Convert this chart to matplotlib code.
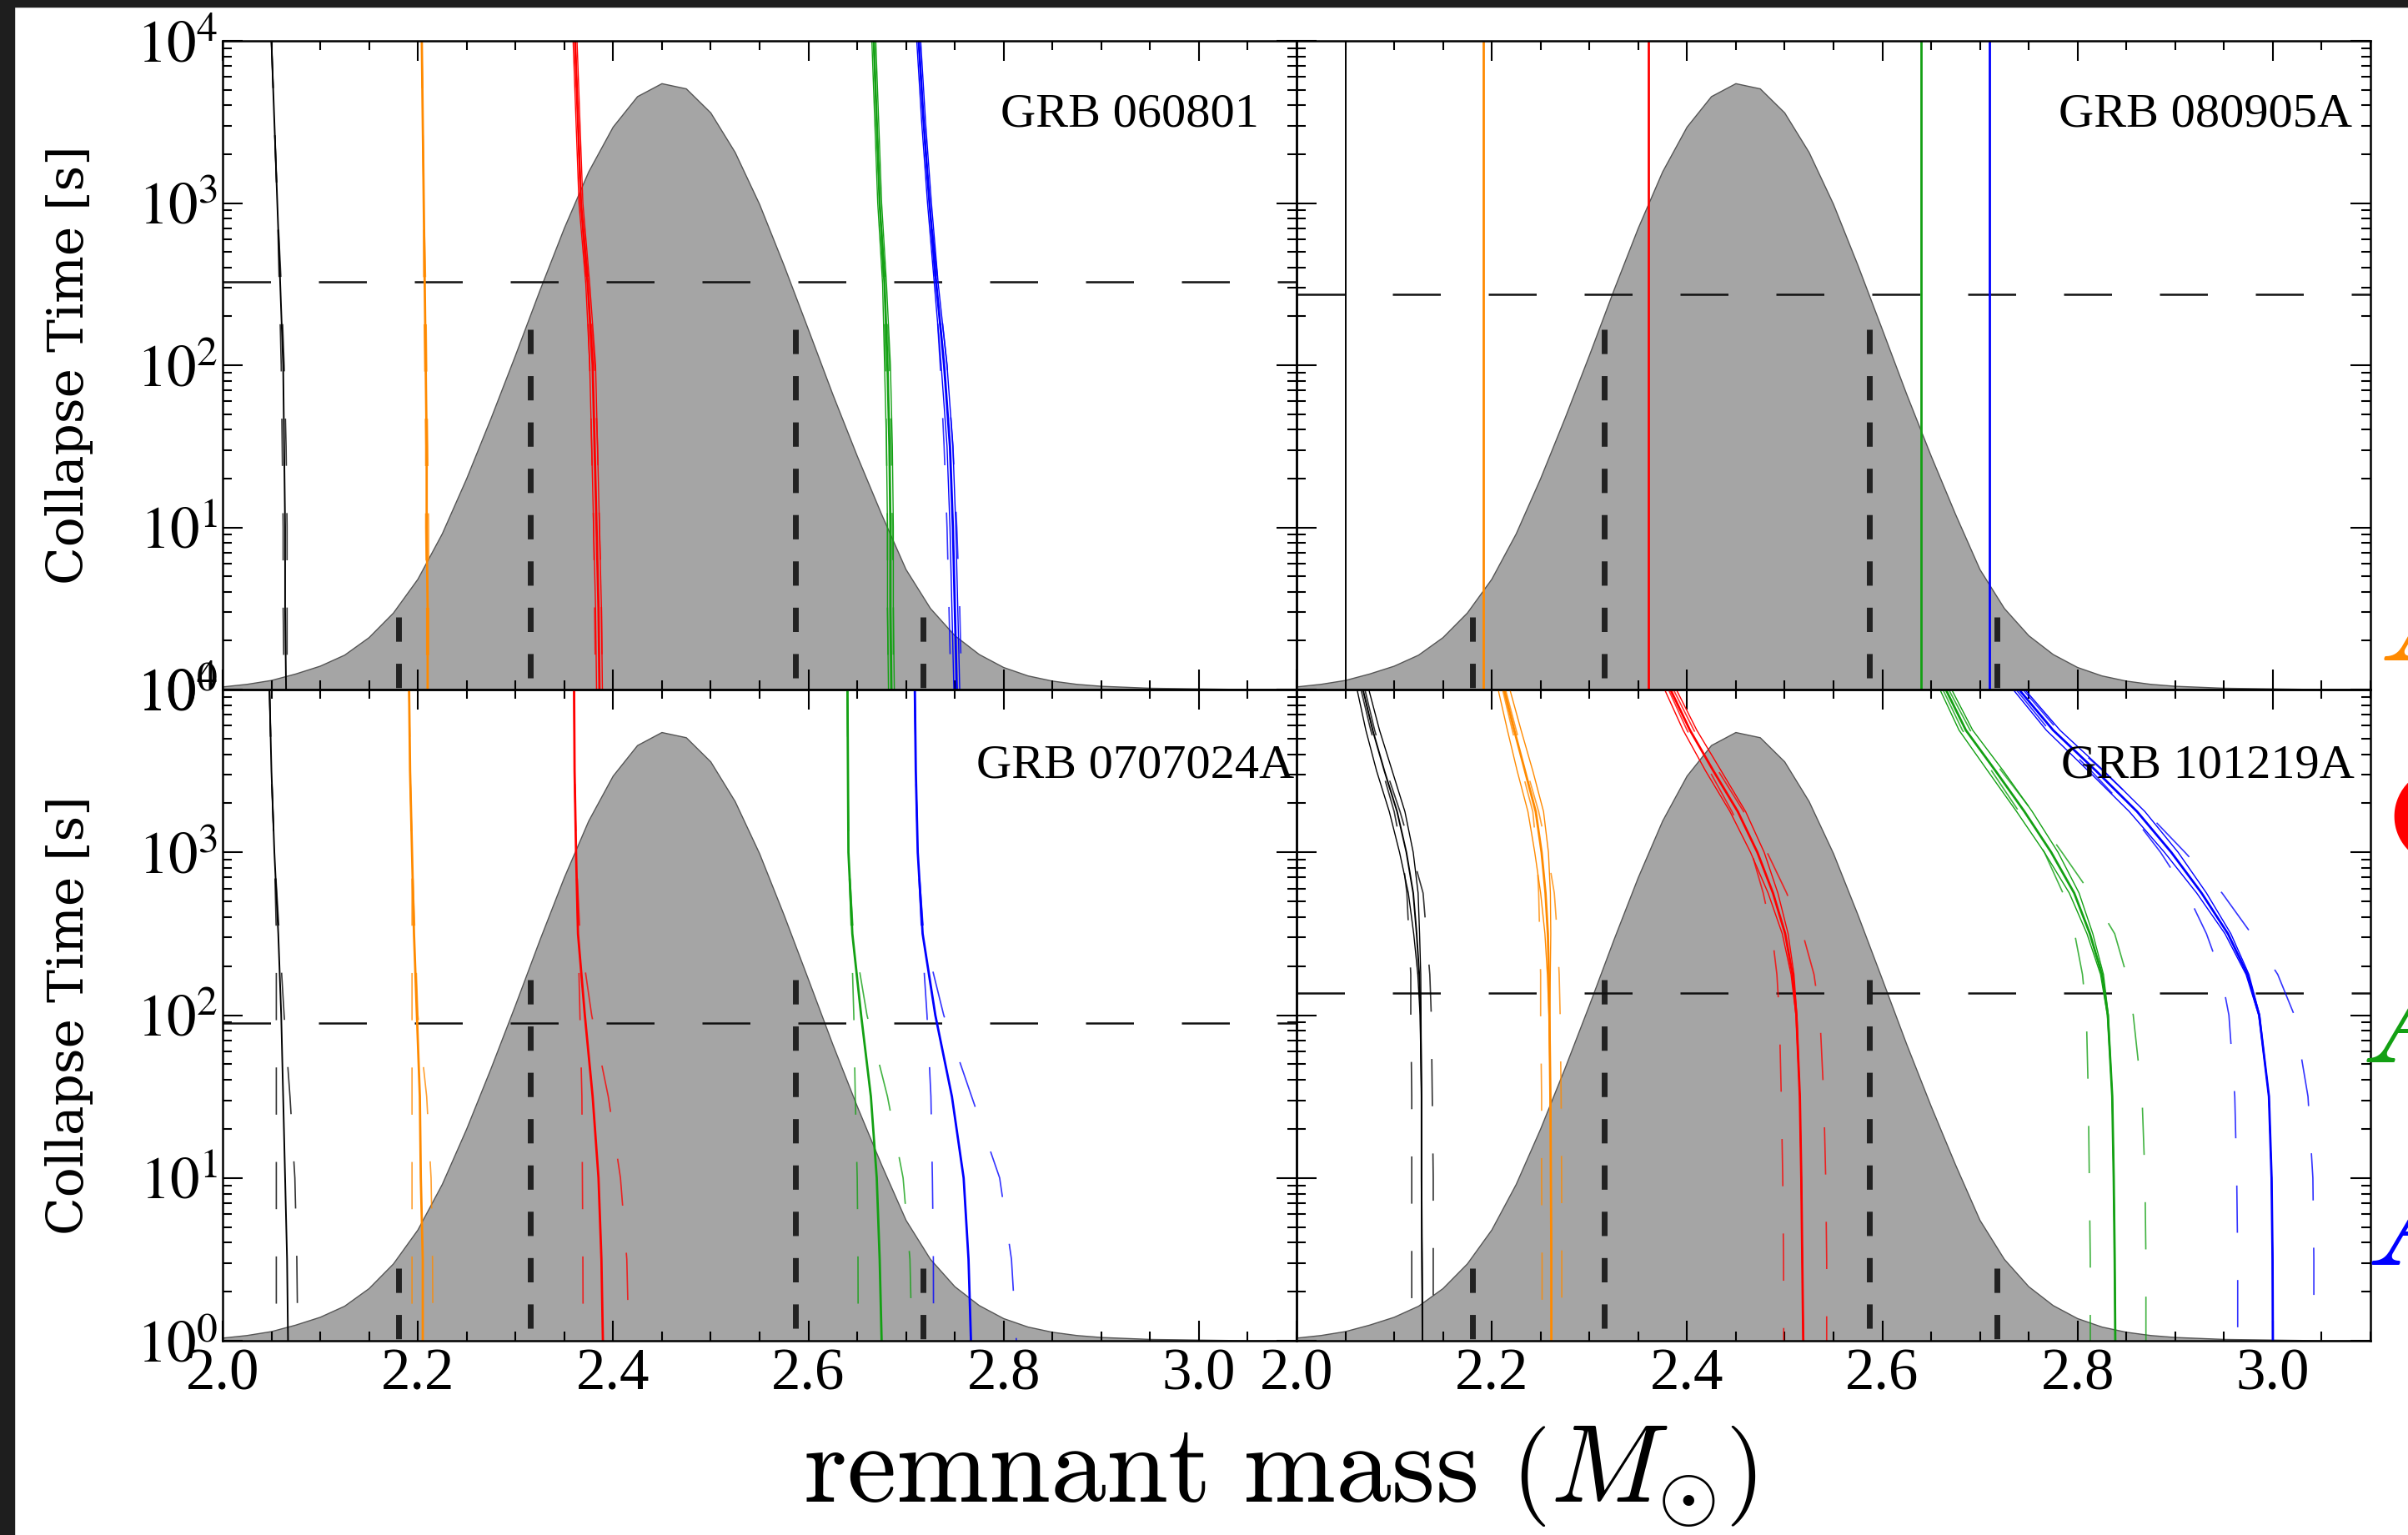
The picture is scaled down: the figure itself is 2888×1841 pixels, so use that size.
import numpy as np
import matplotlib
matplotlib.use("Agg")
import matplotlib.pyplot as plt
from matplotlib.patches import Rectangle
from matplotlib.ticker import MultipleLocator, LogLocator, FuncFormatter, NullFormatter

plt.rcParams['font.family'] = ['Liberation Serif', 'DejaVu Serif']
plt.rcParams['mathtext.fontset'] = 'stix'

# equations of state: SLy, APR, GM1, AB-N, AB-L
eos_colors = ["#000000", "#ff8a00", "#ff0000", "#13a013", "#0000ff"]
edge_labels = [r"$APR4$", r"$\mathrm{GM1}$", r"$AB\!-\!N$", r"$AB\!-\!L$"]

# remnant mass distribution (height as fraction of the panel)
gauss_mass = [2.000, 2.025, 2.050, 2.075, 2.100, 2.125, 2.150, 2.175, 2.200, 2.225,
              2.250, 2.275, 2.300, 2.325, 2.350, 2.375, 2.400, 2.425, 2.450, 2.475,
              2.500, 2.525, 2.550, 2.575, 2.600, 2.625, 2.650, 2.675, 2.700, 2.725,
              2.750, 2.775, 2.800, 2.825, 2.850, 2.875, 2.900, 2.950, 3.000, 3.050, 3.100]
gauss_height = [0.004, 0.008, 0.014, 0.024, 0.036, 0.053, 0.080, 0.118, 0.170, 0.240,
                0.325, 0.418, 0.515, 0.615, 0.711, 0.798, 0.867, 0.914, 0.934, 0.926,
                0.889, 0.828, 0.748, 0.654, 0.555, 0.455, 0.360, 0.270, 0.185, 0.125,
                0.083, 0.054, 0.034, 0.021, 0.013, 0.008, 0.005, 0.002, 0.001, 0.0, 0.0]

# 1 and 2 sigma markers
sigma_mass = [2.18, 2.315, 2.587, 2.717]
sigma_top = [2.8, 166, 166, 2.8]

grb_names = ["GRB 060801", "GRB 080905A", "GRB 0707024A", "GRB 101219A"]
plateau_time = [326, 273, 89, 137]

logt_coarse = [4, 3.5, 3, 2.5, 2, 1.5, 1, 0.5, 0]
logt_fine = [4, 3.75, 3.5, 3.25, 3, 2.75, 2.5, 2.25, 2, 1.5, 1, 0.5, 0]

# GRB 060801
main_060801 = [[2.050, 2.053, 2.056, 2.059, 2.062, 2.063, 2.064, 2.064, 2.065],
               [2.204, 2.205, 2.206, 2.207, 2.208, 2.209, 2.209, 2.210, 2.210],
               [2.361, 2.364, 2.367, 2.374, 2.379, 2.381, 2.383, 2.385, 2.386],
               [2.667, 2.670, 2.673, 2.678, 2.681, 2.683, 2.684, 2.684, 2.685],
               [2.713, 2.718, 2.724, 2.731, 2.739, 2.745, 2.748, 2.750, 2.752]]
lo_060801 = [[2.050, 2.053, 2.056, 2.058, 2.060, 2.061, 2.062, 2.062, 2.063],
             [2.204, 2.205, 2.206, 2.206, 2.207, 2.208, 2.208, 2.209, 2.209],
             [2.361, 2.364, 2.367, 2.373, 2.376, 2.378, 2.380, 2.381, 2.382],
             [2.667, 2.670, 2.673, 2.677, 2.679, 2.680, 2.681, 2.681, 2.682],
             [2.713, 2.718, 2.724, 2.730, 2.735, 2.739, 2.742, 2.744, 2.746]]
hi_060801 = [[2.050, 2.053, 2.056, 2.060, 2.063, 2.065, 2.066, 2.066, 2.066],
             [2.204, 2.205, 2.206, 2.208, 2.209, 2.210, 2.211, 2.211, 2.211],
             [2.361, 2.364, 2.367, 2.375, 2.381, 2.384, 2.386, 2.388, 2.389],
             [2.667, 2.670, 2.673, 2.679, 2.683, 2.685, 2.686, 2.687, 2.687],
             [2.713, 2.718, 2.724, 2.733, 2.742, 2.748, 2.752, 2.755, 2.757]]
thin_060801 = [0.002, 0.002, 0.002, 0.002, 0.003, 0.003, 0.003, 0.003, 0.003]
thin_eos_060801 = [False, False, True, True, True]

# GRB 080905A
main_080905A = [[2.050] * 9, [2.1915] * 9, [2.360] * 9, [2.6395] * 9, [2.710] * 9]

# GRB 070724A
main_070724A = [[2.048, 2.050, 2.053, 2.057, 2.060, 2.062, 2.064, 2.066, 2.067],
                [2.191, 2.192, 2.194, 2.196, 2.199, 2.202, 2.203, 2.205, 2.205],
                [2.360, 2.3605, 2.362, 2.364, 2.371, 2.379, 2.385, 2.388, 2.3895],
                [2.640, 2.6405, 2.641, 2.645, 2.654, 2.664, 2.670, 2.673, 2.675],
                [2.709, 2.710, 2.712, 2.717, 2.730, 2.747, 2.759, 2.764, 2.7665]]
lo_070724A = [[2.048, 2.050, 2.053, 2.055, 2.055, 2.055, 2.055, 2.055, 2.055],
              [2.191, 2.192, 2.194, 2.194, 2.194, 2.194, 2.194, 2.194, 2.194],
              [2.360, 2.3605, 2.362, 2.364, 2.366, 2.368, 2.3685, 2.369, 2.3693],
              [2.640, 2.6405, 2.641, 2.644, 2.6465, 2.648, 2.650, 2.6508, 2.651],
              [2.709, 2.710, 2.712, 2.716, 2.7215, 2.7255, 2.727, 2.728, 2.7282]]
hi_070724A = [[2.048, 2.050, 2.053, 2.058, 2.063, 2.069, 2.074, 2.076, 2.077],
              [2.191, 2.192, 2.194, 2.197, 2.200, 2.209, 2.2135, 2.215, 2.2155],
              [2.360, 2.3605, 2.362, 2.366, 2.378, 2.395, 2.4075, 2.414, 2.416],
              [2.640, 2.6405, 2.641, 2.646, 2.660, 2.681, 2.697, 2.704, 2.706],
              [2.709, 2.710, 2.712, 2.718, 2.7386, 2.7672, 2.7959, 2.808, 2.813]]

# GRB 101219A
main_101219A = [[2.068, 2.078, 2.090, 2.103, 2.1125, 2.1195, 2.123, 2.1257, 2.127, 2.128, 2.128, 2.1285, 2.129],
                [2.2125, 2.223, 2.234, 2.245, 2.251, 2.255, 2.2574, 2.2584, 2.259, 2.260, 2.2605, 2.261, 2.261],
                [2.383, 2.403, 2.427, 2.452, 2.472, 2.488, 2.5005, 2.508, 2.512, 2.5155, 2.517, 2.518, 2.519],
                [2.665, 2.6856, 2.716, 2.7456, 2.773, 2.7965, 2.8126, 2.825, 2.831, 2.8355, 2.837, 2.838, 2.8386],
                [2.740, 2.775, 2.819, 2.861, 2.896, 2.927, 2.954, 2.974, 2.986, 2.996, 2.9987, 2.9997, 3.000]]
lo_101219A = [[2.066, 2.076, 2.088, 2.100, 2.108, 2.113, 2.115, 2.117, 2.117, 2.118, 2.118, 2.118, 2.118],
              [2.211, 2.221, 2.231, 2.242, 2.246, 2.248, 2.249, 2.250, 2.250, 2.251, 2.251, 2.2515, 2.2515],
              [2.381, 2.400, 2.423, 2.446, 2.466, 2.478, 2.487, 2.492, 2.4945, 2.4965, 2.498, 2.4988, 2.499],
              [2.662, 2.682, 2.712, 2.740, 2.766, 2.785, 2.797, 2.805, 2.809, 2.811, 2.812, 2.813, 2.813],
              [2.737, 2.771, 2.814, 2.853, 2.885, 2.912, 2.932, 2.947, 2.955, 2.961, 2.963, 2.964, 2.964]]
hi_101219A = [[2.070, 2.080, 2.092, 2.106, 2.118, 2.1296, 2.133, 2.1365, 2.138, 2.139, 2.140, 2.140, 2.140],
              [2.214, 2.225, 2.236, 2.248, 2.257, 2.264, 2.267, 2.269, 2.270, 2.271, 2.2715, 2.2717, 2.2717],
              [2.386, 2.407, 2.432, 2.458, 2.482, 2.502, 2.5185, 2.530, 2.536, 2.540, 2.542, 2.543, 2.543],
              [2.668, 2.690, 2.722, 2.754, 2.784, 2.813, 2.838, 2.850, 2.857, 2.866, 2.869, 2.870, 2.870],
              [2.744, 2.780, 2.826, 2.870, 2.910, 2.948, 2.978, 3.005, 3.022, 3.036, 3.041, 3.042, 3.042]]
thin_101219A = [0.006, 0.007, 0.008, 0.008, 0.007, 0.005, 0.003, 0.0015, 0.0005, 0, 0, 0, 0]
thin_eos_101219A = [True, True, True, True, True]

panels = [
    (logt_coarse, main_060801, lo_060801, hi_060801, thin_060801, thin_eos_060801),
    (logt_coarse, main_080905A, None, None, None, None),
    (logt_coarse, main_070724A, lo_070724A, hi_070724A, None, None),
    (logt_fine, main_101219A, lo_101219A, hi_101219A, thin_101219A, thin_eos_101219A),
]

W, H = 2888, 1841
fig = plt.figure(figsize=(W / 100, H / 100), dpi=100)
fig.patch.set_facecolor('white')

left_x = [267 / W, 1555 / W]
pw = 1288 / W
rects = [
    [left_x[0], 1 - 827 / H, pw, 778 / H],
    [left_x[1], 1 - 827 / H, pw, 778 / H],
    [left_x[0], 1 - 1608 / H, pw, 781 / H],
    [left_x[1], 1 - 1608 / H, pw, 781 / H],
]
label_x = [0.965, 0.983, 0.998, 0.985]
label_y = [0.886, 0.886, 0.883, 0.883]

for i, rect in enumerate(rects):
    # gaussian underlay
    gax = fig.add_axes(rect)
    gax.fill_between(gauss_mass, 0, gauss_height, facecolor='#a5a5a5', edgecolor='none')
    gax.plot(gauss_mass, gauss_height, color='#555555', lw=1.0)
    gax.set_xlim(2.0, 3.1)
    gax.set_ylim(0, 1)
    gax.axis('off')

    ax = fig.add_axes(rect)
    ax.patch.set_alpha(0)
    ax.set_yscale('log')
    ax.set_xlim(2.0, 3.1)
    ax.set_ylim(1, 1e4)

    for m, top in zip(sigma_mass, sigma_top):
        ax.plot([m, m], [top, 1.0], color='#222222', lw=5, ls=(0, (4.2, 3.8)),
                dash_capstyle='butt')
    ax.plot([2.0, 3.1], [plateau_time[i]] * 2, color='#111111', lw=1.8, ls=(0, (23, 23)))

    logt, main, lo, hi, thin, thin_eos = panels[i]
    t = 10 ** np.array(logt, dtype=float)
    for k, col in enumerate(eos_colors):
        mk = np.array(main[k])
        if lo is not None:
            ax.plot(lo[k], t, color=col, lw=1.2, alpha=0.8, ls=(0, (34, 34)))
            ax.plot(hi[k], t, color=col, lw=1.2, alpha=0.8, ls=(0, (34, 34)))
        if thin is not None and thin_eos[k]:
            sp = np.array(thin)
            ax.plot(mk - sp, t, color=col, lw=1.0)
            ax.plot(mk + sp, t, color=col, lw=1.0)
        ax.plot(mk, t, color=col, lw=1.4 if k == 0 else 2.0)

    ax.text(label_x[i], label_y[i], grb_names[i], transform=ax.transAxes,
            ha='right', va='center', fontsize=42, family='Liberation Serif')

    for s in ax.spines.values():
        s.set_linewidth(1.8)
    ax.xaxis.set_major_locator(MultipleLocator(0.2))
    ax.xaxis.set_minor_locator(MultipleLocator(0.05))
    ax.yaxis.set_major_locator(LogLocator(base=10, numticks=10))
    ax.yaxis.set_minor_locator(LogLocator(base=10, subs=range(2, 10), numticks=20))
    ax.yaxis.set_minor_formatter(NullFormatter())
    ax.yaxis.set_major_formatter(FuncFormatter(lambda v, p: r"$10^{%d}$" % round(np.log10(v))))
    ax.xaxis.set_major_formatter(FuncFormatter(lambda v, p: "%.1f" % v))
    ax.tick_params(which='both', direction='in', top=True, right=True, width=1.5)
    ax.tick_params(which='major', length=17)
    ax.tick_params(which='minor', length=8)
    ax.tick_params(axis='x', labelsize=51, pad=6)
    ax.tick_params(axis='y', labelsize=51, pad=4)
    if i < 2:
        ax.tick_params(axis='x', labelbottom=False)
    if i % 2 == 1:
        ax.tick_params(axis='y', labelleft=False)

# y labels
for yc in [1 - 438 / H, 1 - 1218 / H]:
    fig.text(83 / W, yc, "Collapse Time [s]", rotation=90, ha='center', va='center',
             fontsize=43, family='DejaVu Serif')

# x label
fig.text(1535 / W, 1 - 1801 / H, r"$\mathrm{remnant\ mass}\ \left(M_{\odot}\right)$",
         ha='center', va='baseline', fontsize=96, math_fontfamily='cm')

# cut-off legend labels at the right edge
edge_x = [2853 / W, 2862 / W, 2832 / W, 2838 / W]
edge_y = [1 - 792 / H, 1 - 1032 / H, 1 - 1274 / H, 1 - 1517 / H]
for lab, col, xx, yy in zip(edge_labels, eos_colors[1:], edge_x, edge_y):
    fig.text(xx, yy, lab, color=col, ha='left', va='baseline', fontsize=110,
             math_fontfamily='cm')

# dark screenshot border
fig.patches.append(Rectangle((0, 1 - 8 / H), 1, 8 / H, transform=fig.transFigure,
                             color='#1e1e1e', zorder=10))
fig.patches.append(Rectangle((0, 0), 17 / W, 1, transform=fig.transFigure,
                             color='#1e1e1e', zorder=10))

fig.savefig("out.png", dpi=100)
